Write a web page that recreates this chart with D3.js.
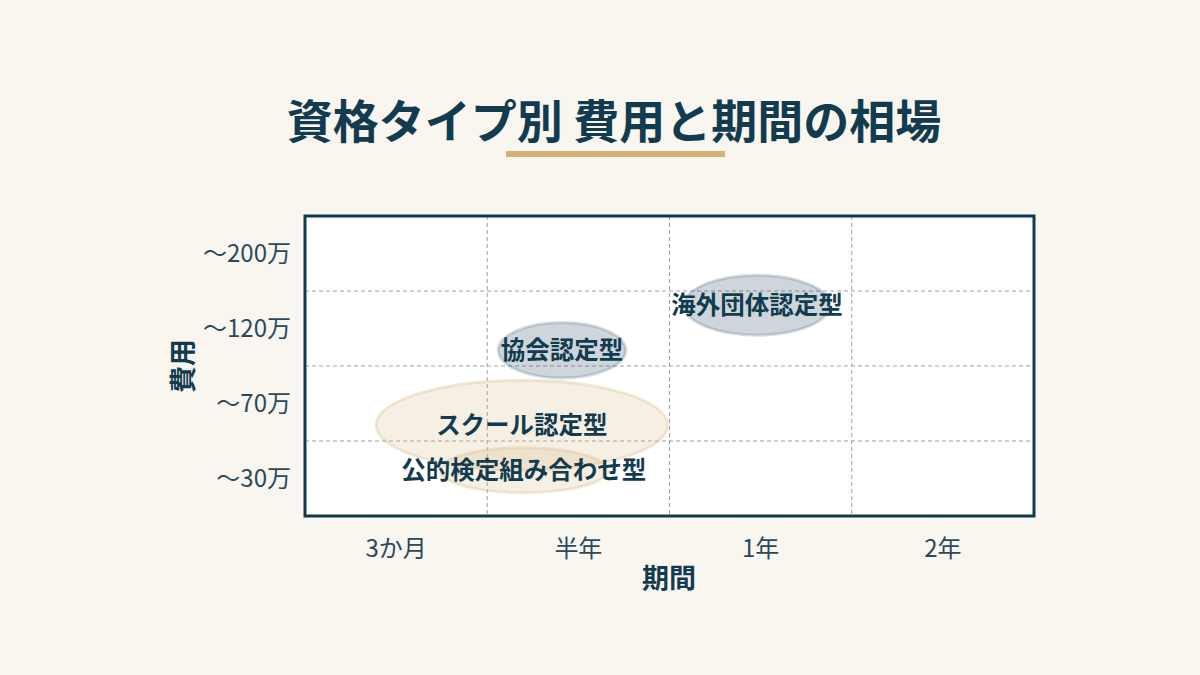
<!DOCTYPE html>
<html><head><meta charset="utf-8">
<script src="https://cdn.jsdelivr.net/npm/d3@7"></script>
<style>
html,body{margin:0;padding:0;background:#f9f6f0;}
svg{display:block;font-family:"Noto Sans CJK JP","Noto Sans",sans-serif;}
</style></head>
<body>
<script>
const periods = ["3か月","半年","1年","2年"];
const costs = ["〜30万","〜70万","〜120万","〜200万"];
const types = ["協会認定型","海外団体認定型","スクール認定型","公的検定組み合わせ型"];
const centerX = [1.41, 2.48, 1.19, 1.20];   // period position (band units)
const centerY = [2.21, 2.81, 1.21, 0.61];   // cost position (band units)
const spreadX = [0.35, 0.40, 0.80, 0.46];
const spreadY = [0.37, 0.40, 0.60, 0.30];
const groups  = ["navy","navy","gold","gold"];

const W=1200,H=675;
const svg=d3.select("body").append("svg").attr("width",W).attr("height",H);
svg.append("rect").attr("width",W).attr("height",H).attr("fill","#f9f6f0");

svg.append("text").attr("x",614).attr("y",138).attr("text-anchor","middle")
  .attr("font-size",46).attr("font-weight",700).attr("fill","#123b4f").text("資格タイプ別 費用と期間の相場");
svg.append("rect").attr("x",506).attr("y",151).attr("width",219).attr("height",6).attr("fill","#d4b272");

const L=305,R=1034,T=216,B=516;
const x=d3.scaleLinear().domain([0,periods.length]).range([L,R]);
const y=d3.scaleLinear().domain([0,costs.length]).range([B,T]);

svg.append("rect").attr("x",L).attr("y",T).attr("width",R-L).attr("height",B-T).attr("fill","#ffffff");

const g=svg.append("g");
// grid
g.selectAll("line.vx").data(d3.range(1,periods.length)).join("line")
  .attr("x1",d=>x(d)).attr("x2",d=>x(d)).attr("y1",T).attr("y2",B)
  .attr("stroke","#a0a0a0").attr("stroke-width",1).attr("stroke-dasharray","4,3");
g.selectAll("line.hy").data(d3.range(1,costs.length)).join("line")
  .attr("y1",d=>y(d)).attr("y2",d=>y(d)).attr("x1",L).attr("x2",R)
  .attr("stroke","#a0a0a0").attr("stroke-width",1).attr("stroke-dasharray","4,3");

const fills={navy:"rgba(30,70,95,0.22)",gold:"rgba(214,184,128,0.22)"};
const strokes={navy:"rgba(30,70,95,0.18)",gold:"rgba(214,184,128,0.3)"};
const idx=d3.range(types.length);
g.selectAll("ellipse").data(idx).join("ellipse")
  .attr("cx",i=>x(centerX[i])).attr("cy",i=>y(centerY[i]))
  .attr("rx",i=>x(spreadX[i])-x(0)).attr("ry",i=>y(0)-y(spreadY[i]))
  .attr("fill",i=>fills[groups[i]]).attr("stroke",i=>strokes[groups[i]]).attr("stroke-width",3);
g.selectAll("text.lab").data(idx).join("text")
  .attr("x",i=>x(centerX[i])).attr("y",i=>y(centerY[i])).attr("dy","0.36em")
  .attr("text-anchor","middle").attr("font-size",24.5).attr("font-weight",700).attr("fill","#123b4f")
  .text(i=>types[i]);

svg.append("rect").attr("x",L).attr("y",T).attr("width",R-L).attr("height",B-T)
  .attr("fill","none").attr("stroke","#0f3a4f").attr("stroke-width",3);

// axes labels
svg.selectAll("text.xt").data(periods).join("text")
  .attr("x",(d,i)=>x(i+0.5)).attr("y",557).attr("text-anchor","middle")
  .attr("font-size",24).attr("fill","#2a4a5c").text(d=>d);
svg.selectAll("text.yt").data(costs).join("text")
  .attr("x",291).attr("y",(d,i)=>y(i+0.5)).attr("dy","0.36em").attr("text-anchor","end")
  .attr("font-size",24).attr("fill","#2a4a5c").text(d=>d);

svg.append("text").attr("x",669).attr("y",588).attr("text-anchor","middle")
  .attr("font-size",27).attr("font-weight",700).attr("fill","#123b4f").text("期間");
svg.append("text").attr("transform","translate(193,"+y(2)+") rotate(-90)").attr("text-anchor","middle")
  .attr("font-size",27).attr("font-weight",700).attr("fill","#123b4f").text("費用");
</script>
</body></html>
